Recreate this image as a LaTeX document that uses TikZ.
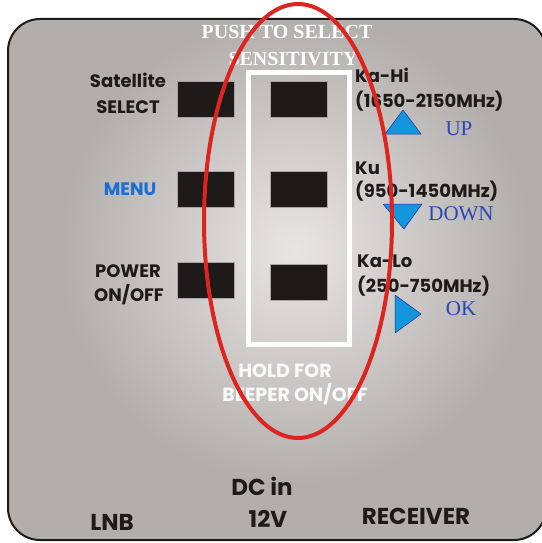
\documentclass[tikz,border=0pt]{standalone}
\usepackage{fontspec}
\setmainfont{Liberation Serif}[BoldFont={Liberation Serif Bold}]
\newfontfamily\labelfont{Poppins}[BoldFont={Poppins Bold}]
\usetikzlibrary{positioning}
\definecolor{paneledge}{RGB}{178,174,172}
\definecolor{panelglow}{RGB}{232,230,229}
\definecolor{keyblack}{RGB}{30,26,26}
\definecolor{ringred}{RGB}{222,36,30}
\definecolor{arrowfill}{RGB}{20,150,220}
\definecolor{arrowline}{RGB}{40,40,150}
\definecolor{hintblue}{RGB}{40,70,180}
\definecolor{menublue}{RGB}{25,110,215}

\begin{document}
\begin{tikzpicture}[
  x=1pt, y=-1pt,
  node distance=54pt and 36pt,
  key/.style={draw=gray!70, line width=0.6pt, fill=keyblack, minimum width=57pt, minimum height=36pt, inner sep=0pt},
  lbl/.style={font=\labelfont\bfseries\fontsize{18}{20}\selectfont, text=keyblack, anchor=base, inner sep=0pt},
  band/.style={lbl, anchor=base west, text depth=0pt},
  jack/.style={lbl, font=\labelfont\bfseries\fontsize{23}{25}\selectfont},
  hold/.style={lbl, font=\labelfont\bfseries\fontsize{19}{21}\selectfont, text=white!96!gray},
  title/.style={font=\bfseries\fontsize{20}{22}\selectfont, text=white, anchor=base, inner sep=0pt},
  hint/.style={font=\fontsize{21}{23}\selectfont, text=hintblue, anchor=base, inner sep=0pt, text height=13pt, text depth=0pt},
  tri/.style={fill=arrowfill, draw=arrowline, line width=0.5pt, line join=round},
  ring/.style={draw=ringred, line width=4pt}
]
\useasboundingbox (0,0) rectangle (541,543);

% panel with soft light in the middle
\begin{scope}
  \clip[rounded corners=32pt] (8,19) rectangle (546,540);
  \fill[paneledge] (0,0) rectangle (560,560);
  \shade[inner color=panelglow, outer color=paneledge] (295,250) circle (235);
\end{scope}
\draw[keyblack, line width=2pt, rounded corners=32pt] (8,19) rectangle (546,540);

\draw[white, line width=5pt] (248,72) rectangle (349.5,344);

\node[key] (sat) at (205.5,99) {};
\node[key, below=of sat] (menu) {};
\node[key, below=of menu] (power) {};
\node[key, right=of sat] (kahi) {};
\node[key, right=of menu] (ku) {};
\node[key, right=of power, yshift=-2pt] (kalo) {};

\node[title] (push) at (287,39) {PUSH TO SELECT};
\node[title] (sens) at (293,65) {SENSITIVITY};

\node[lbl] (satl) at (128,88) {Satellite};
\node[lbl] (sell) at (128,113) {SELECT};
\node[lbl, text=menublue] (menul) at (130,195) {MENU};
\node[lbl] (powl) at (128,277) {POWER};
\node[lbl] (onl) at (129,301) {ON/OFF};

\node[band] (hil) at (355,82) {Ka-Hi};
\node[band] (hir) at (355,107) {(1650-2150MHz)};
\node[band] (kul) at (355,174) {Ku};
\node[band] (kur) at (355,197) {(950-1450MHz)};
\node[band] (lol) at (357,267) {Ka-Lo};
\node[band] (lor) at (357,292) {(250-750MHz)};

\filldraw[tri] (385,134) -- (403,110) -- (421,134) -- cycle;
\filldraw[tri] (383,204) -- (422,204) -- (404,229) -- cycle;
\filldraw[tri] (395,295) -- (421,314) -- (395,333) -- cycle;
\node[hint] (up) at (459,135) {UP};
\node[hint] (down) at (461,220) {DOWN};
\node[hint] (ok) at (461,315) {OK};

\node[hold] (holdl) at (285,377) {HOLD FOR};
\node[hold] (beepl) at (295,401) {BEEPER ON/OFF};

\node[jack] (lnb) at (112,530) {LNB};
\node[jack] (dcin) at (262,495) {DC in};
\node[jack] (volt) at (268,527) {12V};
\node[jack] (recv) at (416,524) {RECEIVER};

\draw[ring] (298,221) ellipse (94 and 217);
\end{tikzpicture}
\end{document}
